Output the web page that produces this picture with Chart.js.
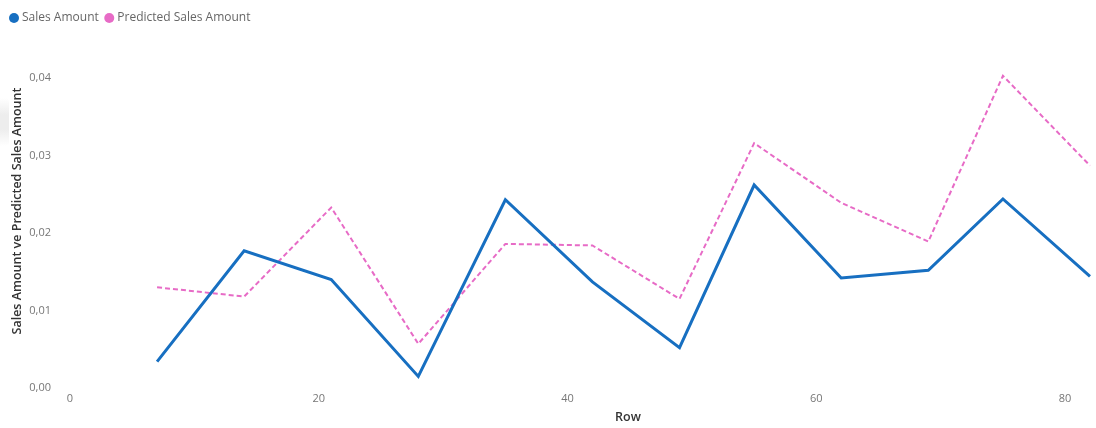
<!DOCTYPE html>
<html>
<head>
<meta charset="utf-8">
<title>Sales Amount ve Predicted Sales Amount</title>
<script src="https://cdn.jsdelivr.net/npm/chart.js@4.4.1/dist/chart.umd.min.js"></script>
<style>
  html, body { margin: 0; padding: 0; background: #fff; }
  #wrap { position: relative; width: 1096px; height: 428px; overflow: hidden; }
  #tab {
    position: absolute; left: 0; top: 98px; width: 9px; height: 48px;
    background: linear-gradient(to bottom, rgba(236,236,236,0), #ededed 35%, #ededed 65%, rgba(236,236,236,0));
    border-radius: 0 4px 4px 0;
  }
  canvas { position: absolute; left: 0; top: 0; }
</style>
</head>
<body>
<div id="wrap">
  <div id="tab"></div>
  <canvas id="chart" width="1096" height="428"></canvas>
</div>
<script>
// Row numbers on the x axis
const rows = [7, 14, 21, 28, 35, 42, 49, 55, 62, 69, 75, 82];

// Series values
const salesAmount = [0.0034, 0.0177, 0.0140, 0.0015, 0.0243, 0.0137, 0.0052, 0.0262, 0.0142, 0.0152, 0.0244, 0.0144];
const predictedSalesAmount = [0.0130, 0.0118, 0.0233, 0.0057, 0.0186, 0.0184, 0.0115, 0.0316, 0.0239, 0.0189, 0.0403, 0.0287];

// Series names and colours
const seriesNames = ['Sales Amount', 'Predicted Sales Amount'];
const seriesColors = ['#176FC1', '#E76BC6'];

// Tick labels
const xTicks = [0, 20, 40, 60, 80];
const yTicks = [0, 0.01, 0.02, 0.03, 0.04];

// Axis titles
const xTitle = 'Row';
const yTitle = 'Sales Amount ve Predicted Sales Amount';

const FONT = '"Open Sans", "Segoe UI", "Noto Sans", sans-serif';

const toPoints = (xs, ys) => xs.map((x, i) => ({ x: x, y: ys[i] }));

// Legend and axis titles, drawn onto the chart canvas
const panelText = {
  id: 'panelText',
  afterDraw(chart) {
    const ctx = chart.ctx;
    ctx.save();
    ctx.textBaseline = 'middle';
    ctx.textAlign = 'left';
    ctx.font = '12px ' + FONT;
    let x = 14;
    const y = 18;
    chart.data.datasets.forEach(ds => {
      ctx.fillStyle = ds.borderColor;
      ctx.beginPath();
      ctx.arc(x, y, 5, 0, Math.PI * 2);
      ctx.fill();
      ctx.fillStyle = '#666666';
      ctx.fillText(ds.label, x + 8, y);
      x += 8 + ctx.measureText(ds.label).width + 10.5;
    });

    ctx.fillStyle = '#333333';
    ctx.textAlign = 'center';
    ctx.font = '600 12.5px ' + FONT;
    ctx.fillText(xTitle, 628, 417);
    ctx.translate(17, 211);
    ctx.rotate(-Math.PI / 2);
    ctx.fillText(yTitle, 0, 0);
    ctx.restore();
  }
};

new Chart(document.getElementById('chart'), {
  type: 'line',
  data: {
    datasets: [
      {
        label: seriesNames[0],
        data: toPoints(rows, salesAmount),
        borderColor: seriesColors[0],
        backgroundColor: seriesColors[0],
        borderWidth: 3,
        pointRadius: 0,
        tension: 0,
        fill: false,
        clip: 4
      },
      {
        label: seriesNames[1],
        data: toPoints(rows, predictedSalesAmount),
        borderColor: seriesColors[1],
        backgroundColor: seriesColors[1],
        borderWidth: 2,
        borderDash: [5, 3],
        pointRadius: 0,
        tension: 0,
        fill: false,
        clip: 4
      }
    ]
  },
  options: {
    responsive: false,
    animation: false,
    devicePixelRatio: 1,
    layout: { padding: { top: 75, right: 6, bottom: 0, left: 0 } },
    plugins: {
      legend: { display: false },
      tooltip: { enabled: false }
    },
    scales: {
      x: {
        type: 'linear',
        min: 0,
        max: 82,
        afterBuildTicks: s => { s.ticks = xTicks.map(v => ({ value: v })); },
        afterFit: s => { s.height = 40; },
        grid: { display: false, drawTicks: false },
        border: { display: false },
        ticks: {
          autoSkip: false,
          maxRotation: 0,
          padding: 4,
          color: '#777777',
          font: { family: FONT, size: 11 }
        }
      },
      y: {
        type: 'linear',
        min: 0,
        max: 0.0404,
        afterBuildTicks: s => { s.ticks = yTicks.map(v => ({ value: v })); },
        afterFit: s => { s.width = 70; },
        grid: { display: false, drawTicks: false },
        border: { display: false },
        ticks: {
          padding: 19,
          color: '#777777',
          font: { family: FONT, size: 11 },
          callback: v => Number(v).toFixed(2).replace('.', ',')
        }
      }
    }
  },
  plugins: [panelText]
});
</script>
</body>
</html>
